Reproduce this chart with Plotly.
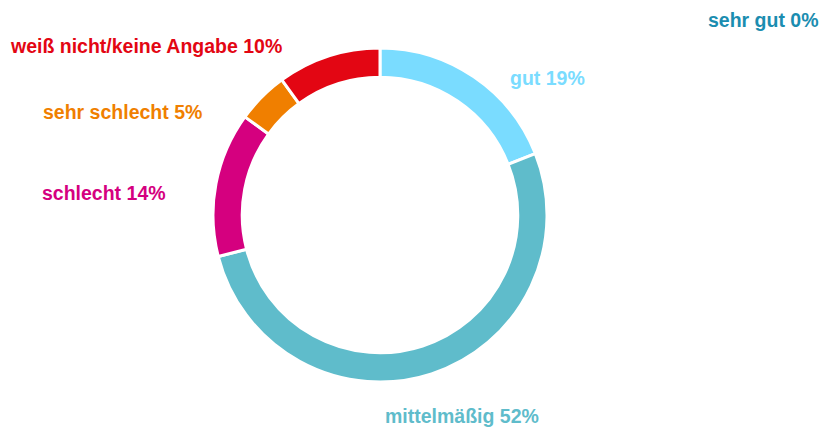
import plotly.graph_objects as go

categories = ["sehr gut", "gut", "mittelmäßig", "schlecht", "sehr schlecht", "weiß nicht/keine Angabe"]
values = [0, 19, 52, 14, 5, 10]
colors = ["#1b8db0", "#7adcff", "#5fbccb", "#d5007f", "#f07f00", "#e30613"]

W, H = 823, 432
cx, cy, r = 380, 215, 167

fig = go.Figure(go.Pie(
    labels=categories, values=values, sort=False, direction="clockwise", rotation=0,
    hole=0.825, textinfo="none", hoverinfo="label+percent",
    marker=dict(colors=colors, line=dict(color="white", width=3)),
    domain=dict(x=[(cx - r) / W, (cx + r) / W], y=[(H - cy - r) / H, (H - cy + r) / H]),
    showlegend=False,
))

# label anchor positions in pixels (x, y, xanchor)
label_pos = [
    (821, 20, "right"),
    (508, 78, "left"),
    (383, 416, "left"),
    (40, 193, "left"),
    (41, 112, "left"),
    (8, 46, "left"),
]
for cat, v, col, (px, py, xa) in zip(categories, values, colors, label_pos):
    fig.add_annotation(
        x=px / W, y=1 - py / H, xref="paper", yref="paper",
        text=f"<b>{cat} {v}%</b>", showarrow=False, xanchor=xa, yanchor="middle",
        font=dict(family="Liberation Sans, Arial, sans-serif", size=19.5, color=col),
    )

fig.update_layout(
    width=W, height=H, margin=dict(l=0, r=0, t=0, b=0),
    paper_bgcolor="white", plot_bgcolor="white",
)
fig.write_html("out.html", config={"displayModeBar": False},
               post_script="document.body.style.margin='0';document.body.style.overflow='hidden';")
